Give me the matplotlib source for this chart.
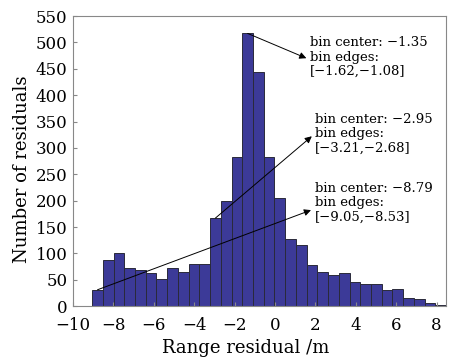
import numpy as np
import matplotlib
matplotlib.use("Agg")
import matplotlib.pyplot as plt

# Histogram data
bin_start = -9.05
bin_width = 0.5307
counts = [31, 88, 100, 73, 69, 62, 51, 72, 64, 80, 80, 167, 200, 282, 517, 444,
          283, 205, 127, 116, 78, 65, 59, 62, 46, 41, 41, 31, 32, 15, 13, 5, 2]
edges = bin_start + bin_width * np.arange(len(counts) + 1)

# (text, annotated bin index, arrow head (x, y), text anchor (x, y))
annotations = [
    ("bin center: \u22121.35\nbin edges:\n[\u22121.62,\u22121.08]", 14, (1.55, 470), (1.72, 472)),
    ("bin center: \u22122.95\nbin edges:\n[\u22123.21,\u22122.68]", 11, (1.82, 322), (1.98, 327)),
    ("bin center: \u22128.79\nbin edges:\n[\u22129.05,\u22128.53]", 0, (1.78, 182), (1.98, 196)),
]

plt.rcParams['font.family'] = ['DejaVu Serif']
fig = plt.figure(figsize=(4.56, 3.64), dpi=100)
ax = fig.add_axes([0.160, 0.159, 0.818, 0.797])

ax.bar(edges[:-1], counts, width=bin_width, align='edge',
       color='#3c3a98', edgecolor='#2a2a3a', linewidth=0.7)

ax.set_xlim(-10, 8.46)
ax.set_ylim(0, 550)
ax.set_xticks(np.arange(-10, 9, 2))
ax.set_yticks(np.arange(0, 551, 50))
ax.tick_params(direction='in', length=3, labelsize=12, color='#888888')
ax.tick_params(axis='x', pad=7.5)
ax.tick_params(axis='y', pad=4)
for s in ax.spines.values():
    s.set_color('#888888')
    s.set_linewidth(0.8)

ax.set_xlabel('Range residual /m', fontsize=13)
ax.set_ylabel('Number of residuals', fontsize=13)
ax.xaxis.set_label_coords(0.463, -0.112)
ax.yaxis.set_label_coords(-0.112, 0.472)

for text, idx, (hx, hy), (tx, ty) in annotations:
    cx = (edges[idx] + edges[idx + 1]) / 2
    ax.annotate('', xy=(hx, hy), xytext=(cx, counts[idx]),
                arrowprops=dict(arrowstyle='-|>', color='black', lw=0.7,
                                mutation_scale=10, shrinkA=0, shrinkB=0))
    ax.text(tx, ty, text, fontsize=9.5, va='center', ha='left',
            linespacing=1.15)

fig.savefig('out.png', dpi=100)
